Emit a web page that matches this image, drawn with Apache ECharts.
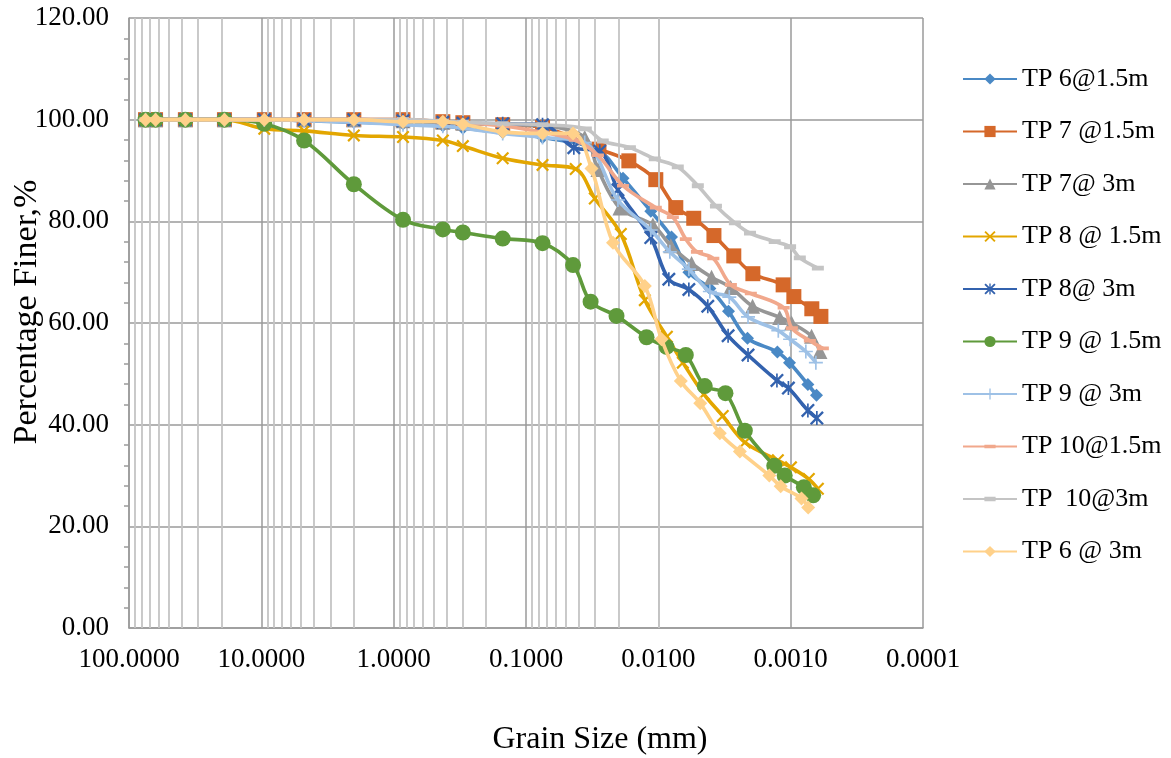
<!DOCTYPE html>
<html><head><meta charset="utf-8">
<script src="https://cdn.jsdelivr.net/npm/echarts@6/dist/echarts.min.js"></script>
<style>html,body{margin:0;padding:0;background:#fff}#c{width:1171px;height:758px}</style>
</head><body><div id="c"></div>
<script>
// ---------- DATA ----------
const sieveSizes = [75, 63, 37.5, 19, 9.5, 4.75, 2, 0.85, 0.425, 0.3, 0.15, 0.075];
const xTickLabels = ['100.0000','10.0000','1.0000','0.1000','0.0100','0.0010','0.0001'];
const seriesNames = ['TP 6@1.5m','TP 7 @1.5m','TP 7@ 3m','TP 8 @ 1.5m','TP 8@ 3m','TP 9 @ 1.5m','TP 9 @ 3m','TP 10@1.5m','TP  10@3m','TP 6 @ 3m'];

const tp6_15_sieve = [100,100,100,100,100,99.8,99.5,99.2,98.8,98.3,97.5,96.5];
const tp6_15_hd = [0.0286,0.0185,0.0114,0.00795,0.00588,0.00408,0.00295,0.00212,0.00126,0.00102,0.000741,0.000638];
const tp6_15_hp = [94,88.5,82,76.9,70,66.8,62.3,57,54.3,52.2,47.9,45.8];

const tp7_15_sieve = [100,100,100,100,100,100,100,100,99.6,99.4,99,98.5];
const tp7_15_hd = [0.0281,0.0167,0.01045,0.00738,0.0054,0.0038,0.00269,0.00193,0.00114,0.000946,0.000692,0.000591];
const tp7_15_hp = [94.2,91.9,88.2,82.7,80.6,77.2,73.2,69.7,67.5,65.2,62.8,61.3];

const tp7_3_sieve = [100,100,100,100,100,100,100,99.8,99.5,99.3,99,98.8];
const tp7_3_hd = [0.036,0.0286,0.0195,0.011,0.00805,0.00561,0.00396,0.00284,0.00194,0.00121,0.000984,0.000695,0.000601];
const tp7_3_hp = [96.5,90.2,82.6,79.3,75.2,71.7,69,67,63.3,61.1,60,57.4,54.4];

const tp8_15_sieve = [100,100,100,100,98.2,97.8,96.9,96.6,95.9,94.8,92.4,91.1];
const tp8_15_hd = [0.0421,0.0302,0.0192,0.01265,0.00862,0.00653,0.00453,0.00326,0.00222,0.00125,0.000995,0.000729,0.000623];
const tp8_15_hp = [90.3,84.5,77.5,64.5,57.3,52.2,46,41.7,36.5,33,31.6,29.3,27.4];

const tp8_3_sieve = [100,100,100,100,100,100,100,99.8,99.5,99.3,99.2,99];
const tp8_3_hd = [0.0435,0.0277,0.0202,0.0114,0.00833,0.00588,0.00423,0.00297,0.0021,0.00127,0.00104,0.000741,0.000634];
const tp8_3_hp = [94.5,93.8,86.2,76.8,68.6,66.6,63.3,57.5,53.7,48.7,47.2,42.8,41.3];

const tp9_15_sieve = [100,100,100,100,99.2,95.9,87.3,80.3,78.4,77.8,76.6,75.7];
const tp9_15_hd = [0.0441,0.0325,0.0207,0.01228,0.00867,0.0062,0.00446,0.00311,0.00222,0.00133,0.00111,0.000795,0.000676];
const tp9_15_hp = [71.4,64.2,61.4,57.2,55.3,53.7,47.6,46.2,38.8,31.9,30,27.7,26.1];

const tp9_3_sieve = [100,100,100,100,100,99.8,99.5,99,98.7,98.3,97.3,96.5];
const tp9_3_hd = [0.036,0.0202,0.0114,0.00819,0.00588,0.00408,0.00291,0.0021,0.00124,0.00101,0.000768,0.000645];
const tp9_3_hp = [95.5,84.2,78.3,74,70.6,66.2,65.1,61.2,58.5,56.8,54.4,52.2];

const tp10_15_sieve = [100,100,100,100,100,100,100,100,99.6,99.4,98.8,97.5];
const tp10_15_hd = [0.0428,0.0286,0.0185,0.01045,0.00777,0.0062,0.00511,0.00384,0.00283,0.002,0.00113,0.000979,0.000716,0.000571];
const tp10_15_hp = [96,93,87,82.7,80.8,76.5,74,72.7,67.5,65.8,63,59,56.5,55];

const tp10_3_sieve = [100,100,100,100,100,100,100,100,99.7,99.5,99.2,99];
const tp10_3_hd = [0.0353,0.0263,0.0164,0.01064,0.00713,0.00503,0.00367,0.00264,0.00203,0.00132,0.00101,0.000853,0.000623];
const tp10_3_hp = [98.2,95.8,94.5,92.3,90.7,87,83,79.7,77.7,76,75,72.8,70.8];

const tp6_3_sieve = [100,100,100,100,100,100,100,99.6,99.6,99.1,97.6,97.3];
const tp6_3_hd = [0.0441,0.032,0.022,0.01265,0.00946,0.00676,0.00482,0.00343,0.00242,0.00145,0.00119,0.000828,0.000737];
const tp6_3_hp = [97.3,90.4,75.8,67.3,56.8,48.6,44.2,38.3,34.7,30,27.9,25.5,23.7];

// ---------- BUILD ----------
function pairs(sv, hd, hp){
  const out = sieveSizes.map((d,i)=>[d, sv[i]]);
  hd.forEach((d,i)=>out.push([d, hp[i]]));
  return out;
}
const X_PATH = 'path://M0,1.2L1.2,0L5,3.8L8.8,0L10,1.2L6.2,5L10,8.8L8.8,10L5,6.2L1.2,10L0,8.8L3.8,5Z';
const AST_PATH = 'path://M0,1.2L1.2,0L5,3.8L8.8,0L10,1.2L6.2,5L10,8.8L8.8,10L5,6.2L1.2,10L0,8.8L3.8,5Z M4.4,0L5.6,0L5.6,10L4.4,10Z';
const PLUS_PATH = 'path://M4.4,0L5.6,0L5.6,10L4.4,10Z M0,4.4L10,4.4L10,5.6L0,5.6Z';
// dash inside a square bounding box (invisible zero-size corner points keep the box square)
const DASH_THIN = 'path://M0,0L0.01,0 M0,3.5L10,3.5L10,6.5L0,6.5Z M10,10L9.99,10';
const DASH_THICK = 'path://M0,0L0.01,0 M0,3L10,3L10,7L0,7Z M10,10L9.99,10';

const defs = [
  {d: pairs(tp6_15_sieve,tp6_15_hd,tp6_15_hp), c:'#4A89C5', s:'diamond', z:13},
  {d: pairs(tp7_15_sieve,tp7_15_hd,tp7_15_hp), c:'#D5682A', s:'rect', z:15},
  {d: pairs(tp7_3_sieve,tp7_3_hd,tp7_3_hp), c:'#969696', s:'triangle', z:15},
  {d: pairs(tp8_15_sieve,tp8_15_hd,tp8_15_hp), c:'#E3A600', s:X_PATH, z:13},
  {d: pairs(tp8_3_sieve,tp8_3_hd,tp8_3_hp), c:'#3362AE', s:AST_PATH, z:14},
  {d: pairs(tp9_15_sieve,tp9_15_hd,tp9_15_hp), c:'#5F9A3B', s:'circle', z:16},
  {d: pairs(tp9_3_sieve,tp9_3_hd,tp9_3_hp), c:'#9EC1E6', s:PLUS_PATH, z:14},
  {d: pairs(tp10_15_sieve,tp10_15_hd,tp10_15_hp), c:'#F1A88C', s:DASH_THIN, z:12},
  {d: pairs(tp10_3_sieve,tp10_3_hd,tp10_3_hp), c:'#C4C4C4', s:DASH_THICK, z:12},
  {d: pairs(tp6_3_sieve,tp6_3_hd,tp6_3_hp), c:'#FFD18A', s:'diamond', z:14}
];

const minorVals = [];
for (let e=-4;e<=1;e++){ for(let k=2;k<=9;k++){ minorVals.push(+(k*Math.pow(10,e)).toPrecision(3)); } }

const series = [{
  type:'line', data:[], silent:true, z:1,
  markLine:{silent:true, symbol:'none', label:{show:false}, animation:false,
    lineStyle:{color:'#c4c4c4', width:1.8, type:'solid'},
    data: minorVals.map(v=>({xAxis:v}))}
}];
defs.forEach((o,i)=>{
  series.push({
    name: seriesNames[i], type:'line', data:o.d, smooth:0.35,
    symbol:o.s, symbolSize:o.z, showAllSymbol:true, z:3+i,
    lineStyle:{color:o.c, width:3.6}, itemStyle:{color:o.c},
    emphasis:{disabled:true}, animation:false
  });
});

const FONT = '"Liberation Serif","Times New Roman",serif';
const chart = echarts.init(document.getElementById('c'), null, {renderer:'canvas'});
chart.setOption({
  animation:false,
  backgroundColor:'#fff',
  grid:{left:129, right:248, top:18, bottom:130, containLabel:false},
  xAxis:{type:'log', logBase:10, min:0.0001, max:100, inverse:true, splitNumber:6,
    axisLine:{show:true, onZero:false, lineStyle:{color:'#9a9a9a', width:1.5}},
    axisTick:{show:false},
    axisLabel:{color:'#000', fontSize:27, fontFamily:FONT, margin:18,
      formatter:(v)=>{ const e=Math.round(Math.log10(v)); return xTickLabels[2-e]; }},
    splitLine:{show:true, lineStyle:{color:'#9a9a9a', width:1.5}}
  },
  yAxis:{type:'value', min:0, max:120, interval:20,
    axisLine:{show:true, lineStyle:{color:'#9a9a9a', width:1.5}},
    axisTick:{show:false},
    minorTick:{show:true, splitNumber:5, length:5, lineStyle:{color:'#9a9a9a', width:1.5}},
    axisLabel:{color:'#000', fontSize:27, fontFamily:FONT, margin:20, formatter:(v)=>v.toFixed(2)},
    splitLine:{show:true, lineStyle:{color:'#9a9a9a', width:1.5}}
  },
  legend:{orient:'vertical', left:957, top:59, itemWidth:54, itemHeight:14, itemGap:22.5,
    data:seriesNames, textStyle:{color:'#000', fontSize:26, fontFamily:FONT, lineHeight:30},
    selectedMode:false},
  graphic:[
    {type:'text', x:600, y:740, style:{text:'Grain Size (mm)', font:'32px '+FONT, fill:'#000', textAlign:'center', textVerticalAlign:'middle'}},
    {type:'text', rotation:Math.PI/2, x:27, y:312, style:{text:'Percentage Finer,%', font:'34px '+FONT, fill:'#000', textAlign:'center', textVerticalAlign:'middle'}}
  ],
  series: series
});
</script></body></html>
